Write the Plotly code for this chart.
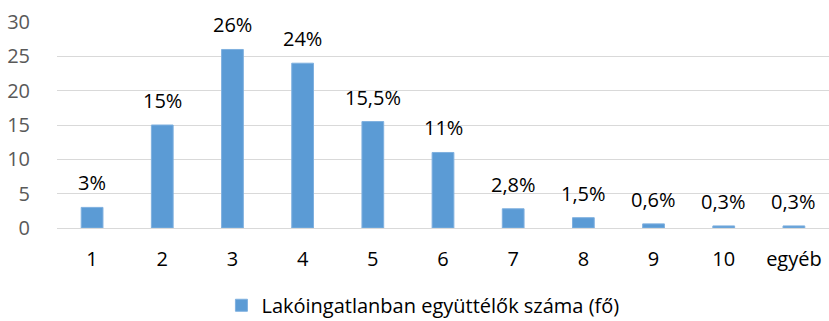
import plotly.graph_objects as go

categories = ["1", "2", "3", "4", "5", "6", "7", "8", "9", "10", "egyéb"]
shares = [3, 15, 26, 24, 15.5, 11, 2.8, 1.5, 0.6, 0.3, 0.3]
series_name = "Lakóingatlanban együttélők száma (fő)"
y_ticks = [0, 5, 10, 15, 20, 25, 30]

labels = [f"{v:g}".replace(".", ",") + "%" for v in shares]

FONT = "Open Sans, Noto Sans, sans-serif"
SIZE = 20

fig = go.Figure()
fig.add_trace(go.Bar(
    x=categories, y=shares, name=series_name,
    marker=dict(color="#5B9BD5", line=dict(color="#7FB0DF", width=1)),
    width=0.31, showlegend=True,
))

# value labels above each bar (category axis: position by index)
for i, (v, t) in enumerate(zip(shares, labels)):
    fig.add_annotation(x=i, y=v, xref="x", yref="y", text=t, showarrow=False,
                       yanchor="bottom", yshift=9,
                       font=dict(family=FONT, size=SIZE, color="#000000"))

fig.update_layout(
    width=829, height=321,
    margin=dict(l=57, r=0, t=22, b=93, autoexpand=False),
    paper_bgcolor="white", plot_bgcolor="white",
    font=dict(family=FONT, size=SIZE),
    legend=dict(orientation="h", x=0.213, xanchor="left", y=-0.375, yanchor="middle",
                font=dict(family=FONT, size=SIZE, color="#000000")),
)
fig.update_xaxes(type="category", showgrid=False, showline=True, linecolor="#D9D9D9",
                 linewidth=1, ticks="outside", ticklen=13, tickcolor="rgba(0,0,0,0)",
                 automargin=False,
                 tickfont=dict(family=FONT, size=SIZE, color="#000000"))
fig.update_yaxes(range=[0, 30], tickvals=y_ticks, showgrid=True, gridcolor="#D9D9D9",
                 gridwidth=1, zeroline=False, ticks="outside", ticklen=22,
                 tickcolor="rgba(0,0,0,0)", automargin=False,
                 tickfont=dict(family=FONT, size=SIZE, color="#595959"))

fig.write_html("out.html")
